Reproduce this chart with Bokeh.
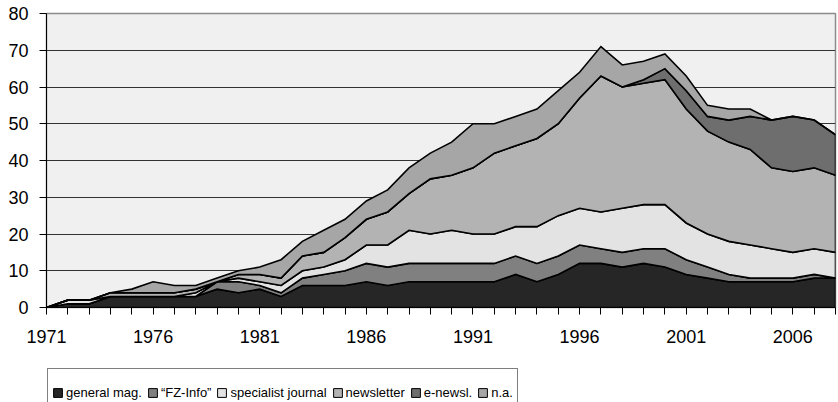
import numpy as np
from bokeh.plotting import figure
from bokeh.layouts import column
from bokeh.models import FixedTicker, Legend, LegendItem, Range1d
from bokeh.embed import file_html
from bokeh.resources import INLINE

years = list(range(1971, 2009))
general_mag = [0, 1, 1, 3, 3, 3, 3, 3, 5, 4, 5, 3, 6, 6, 6, 7, 6, 7, 7, 7,
               7, 7, 9, 7, 9, 12, 12, 11, 12, 11, 9, 8, 7, 7, 7, 7, 8, 8]
fz_info = [0, 0, 0, 0, 0, 0, 0, 0, 2, 3, 1, 1, 2, 3, 4, 5, 5, 5, 5, 5,
           5, 5, 5, 5, 5, 5, 4, 4, 4, 5, 4, 3, 2, 1, 1, 1, 1, 0]
specialist_journal = [0, 1, 1, 0, 0, 0, 0, 1, 0, 1, 1, 2, 2, 2, 3, 5, 6, 9, 8, 9,
                      8, 8, 8, 10, 11, 10, 10, 12, 12, 12, 10, 9, 9, 9, 8, 7, 7, 7]
newsletter = [0, 0, 0, 1, 1, 1, 1, 1, 0, 1, 2, 2, 4, 4, 6, 7, 9, 10, 15, 15,
              18, 22, 22, 24, 25, 30, 37, 33, 33, 34, 31, 28, 27, 26, 22, 22, 22, 21]
e_newsl = [0, 0, 0, 0, 0, 0, 0, 0, 0, 0, 0, 0, 0, 0, 0, 0, 0, 0, 0, 0,
           0, 0, 0, 0, 0, 0, 0, 0, 1, 3, 5, 4, 6, 9, 13, 15, 13, 11]
n_a = [0, 0, 0, 0, 1, 3, 2, 1, 1, 1, 2, 5, 4, 6, 5, 5, 6, 7, 7, 9,
       12, 8, 8, 8, 9, 7, 8, 6, 5, 4, 4, 3, 3, 2, 0, 0, 0, 0]

series_names = ["general mag.", "\u201cFZ-Info\u201d", "specialist journal",
                "newsletter", "e-newsl.", "n.a."]
series_values = [general_mag, fz_info, specialist_journal, newsletter, e_newsl, n_a]
colors = ["#262626", "#808080", "#e3e3e3", "#b3b3b3", "#6e6e6e", "#a6a6a6"]

y_ticks = list(range(0, 81, 10))
label_years = [1971, 1976, 1981, 1986, 1991, 1996, 2001, 2006]

# stacked polygons built from the series
x = np.array(years, dtype=float)
polys = []
cum = np.zeros(len(years))
for vals in series_values:
    lower = cum.copy()
    upper = cum + np.array(vals, dtype=float)
    polys.append((np.concatenate([x, x[::-1]]), np.concatenate([upper, lower[::-1]])))
    cum = upper

# ---------------- main chart ----------------
p = figure(width=838, height=368, output_backend="svg", toolbar_location=None,
           x_range=Range1d(1971, 2008), y_range=Range1d(0, 80))
p.min_border_left = 46
p.min_border_right = 3
p.min_border_top = 13
p.min_border_bottom = 61
p.border_fill_color = "white"
p.background_fill_color = "#f0f0f0"
p.outline_line_color = "#8c8c8c"
p.outline_line_width = 1.5

for (xs, ys), col in zip(polys, colors):
    p.patch(xs, ys, fill_color=col, line_color="black", line_width=1.6,
            line_join="miter")

p.xaxis.ticker = FixedTicker(ticks=years)
p.xaxis.major_label_overrides = {y: (str(y) if y in label_years else "") for y in years}
p.xaxis.minor_tick_line_color = None
p.xaxis.major_tick_out = 7
p.xaxis.major_tick_in = 0
p.xaxis.major_label_standoff = 15
p.xaxis.axis_line_color = "black"
p.xaxis.major_tick_line_color = "black"
p.xaxis.major_label_text_font = "Liberation Sans"
p.xaxis.major_label_text_font_size = "18px"
p.xaxis.major_label_text_color = "black"

p.yaxis.ticker = FixedTicker(ticks=y_ticks)
p.yaxis.minor_tick_line_color = None
p.yaxis.major_tick_out = 7
p.yaxis.major_tick_in = 0
p.yaxis.major_label_standoff = 11
p.yaxis.axis_line_color = "black"
p.yaxis.major_tick_line_color = "black"
p.yaxis.major_label_text_font = "Liberation Sans"
p.yaxis.major_label_text_font_size = "18px"
p.yaxis.major_label_text_color = "black"

p.xgrid.grid_line_color = None
p.ygrid.ticker = FixedTicker(ticks=y_ticks)
p.ygrid.grid_line_color = "#333333"
p.ygrid.grid_line_width = 1.2

# ---------------- legend strip ----------------
lg = figure(width=838, height=34, output_backend="svg", toolbar_location=None,
            x_axis_location=None, y_axis_location=None,
            x_range=Range1d(1971, 2008), y_range=Range1d(-2, -1))
lg.min_border_left = 0
lg.min_border_right = 0
lg.min_border_top = 0
lg.min_border_bottom = 0
lg.grid.visible = False
lg.outline_line_color = None
lg.background_fill_color = "white"
lg.border_fill_color = "white"

# same layers, kept out of this strip's visible range; used only for legend swatches
swatches = []
for (xs, ys), col in zip(polys, colors):
    swatches.append(lg.patch(xs, ys, fill_color=col, line_color="black", line_width=1))

legend = Legend(
    items=[LegendItem(label=n, renderers=[r]) for n, r in zip(series_names, swatches)],
    orientation="horizontal",
    location=(1, -14),
    margin=0,
    glyph_width=11, glyph_height=11,
    label_standoff=3, spacing=5, padding=4,
    label_height=38,
    label_text_font="Liberation Sans",
    label_text_font_size="13px",
    label_text_color="black",
    border_line_color="black", border_line_width=1,
    background_fill_color="white", background_fill_alpha=1,
)
lg.add_layout(legend, "center")

layout = column(p, lg, spacing=0)
open("out.html", "w").write(file_html(layout, INLINE))
